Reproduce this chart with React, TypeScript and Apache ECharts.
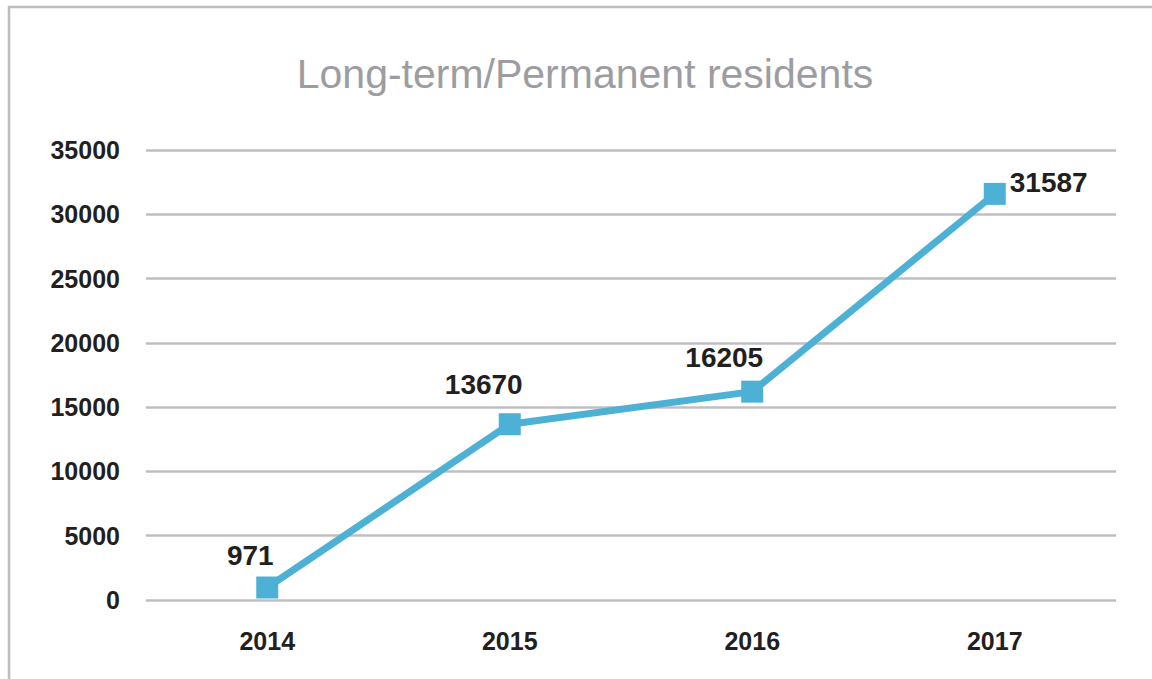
import React, { useEffect, useRef } from "react";
import * as echarts from "echarts";

const categories = ["2014", "2015", "2016", "2017"];
const values = [971, 13670, 16205, 31587];
const yTicks = [0, 5000, 10000, 15000, 20000, 25000, 30000, 35000];

export default function App() {
  const ref = useRef<HTMLDivElement>(null);
  useEffect(() => {
    if (!ref.current) return;
    const chart = echarts.init(ref.current, null, { renderer: "svg" });
    const labelCfg = [
      { position: "top", offset: [-17, -2] },
      { position: "top", offset: [-26, -10] },
      { position: "top", offset: [-28, -4] },
      { position: "right", offset: [-1, -11] },
    ];
    chart.setOption({
      animation: false,
      backgroundColor: "#ffffff",
      title: {
        text: "Long-term/Permanent residents",
        left: 580,
        textAlign: "center",
        top: 48,
        textStyle: {
          color: "#9d9da1",
          fontSize: 41,
          fontWeight: "normal",
          fontFamily: "Liberation Sans, Arial, sans-serif",
        },
      },
      graphic: [
        {
          type: "rect",
          shape: { x: 9, y: 7, width: 1300, height: 800 },
          style: { fill: "none", stroke: "#bdbdc1", lineWidth: 2.5 },
          silent: true,
        },
      ],
      grid: { left: 146, right: 36, top: 150, bottom: 79 },
      xAxis: {
        type: "category",
        data: categories,
        boundaryGap: true,
        axisLine: { show: false },
        axisTick: { show: false },
        axisLabel: {
          margin: 28,
          color: "#231f20",
          fontSize: 25,
          fontWeight: "bold",
          fontFamily: "Liberation Sans, Arial, sans-serif",
        },
      },
      yAxis: {
        type: "value",
        min: yTicks[0],
        max: yTicks[yTicks.length - 1],
        interval: 5000,
        axisLine: { show: false },
        axisTick: { show: false },
        splitLine: { lineStyle: { color: "#bfbfc3", width: 2.5 } },
        axisLabel: {
          margin: 26,
          formatter: (v: number) => String(v),
          color: "#231f20",
          fontSize: 25,
          fontWeight: "bold",
          fontFamily: "Liberation Sans, Arial, sans-serif",
        },
      },
      series: [
        {
          type: "line",
          data: values.map((v, i) => ({
            value: v,
            label: labelCfg[i],
          })),
          symbol: "rect",
          symbolSize: 22,
          lineStyle: { color: "#4db1d5", width: 7 },
          itemStyle: { color: "#4db1d5" },
          label: {
            show: true,
            color: "#231f20",
            fontSize: 28,
            fontWeight: "bold",
            fontFamily: "Liberation Sans, Arial, sans-serif",
          },
        },
      ],
    });
    return () => chart.dispose();
  }, []);
  return (
    <div
      ref={ref}
      style={{ position: "fixed", left: 0, top: 0, width: 1152, height: 679 }}
    />
  );
}
